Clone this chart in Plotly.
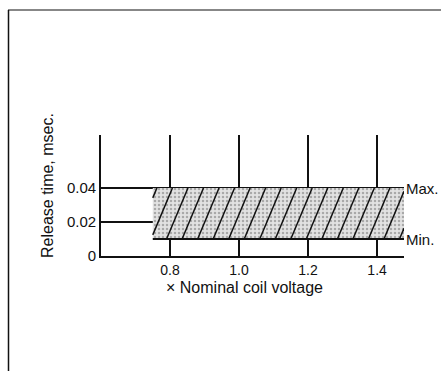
import numpy as np
import plotly.graph_objects as go

# ---- data ----
voltage_ticks = [0.8, 1.0, 1.2, 1.4]
voltage_tick_labels = ["0.8", "1.0", "1.2", "1.4"]
time_ticks = [0, 0.02, 0.04]
time_tick_labels = ["0", "0.02", "0.04"]
band_voltage = [0.75, 1.478]      # extent of the release-time band
release_max = 0.04
release_min = 0.01
x_range = [0.6, 1.478]
y_range = [0, 0.0712]

W, H = 441, 371
ML, MR, MT, MB = 101, W - 404, 135, H - 256
FONT = "Liberation Sans, Arial, sans-serif"
INK = "#111111"

fig = go.Figure()

# stippled band
bx = [band_voltage[0], band_voltage[1], band_voltage[1], band_voltage[0], band_voltage[0]]
by = [release_min, release_min, release_max, release_max, release_min]
fig.add_trace(go.Scatter(
    x=bx, y=by, fill="toself", mode="lines",
    fillcolor="rgba(220,220,220,1)",
    fillpattern=dict(shape=".", fgcolor="#707070", bgcolor="#e2e2e2", size=4, solidity=0.3),
    line=dict(width=0), hoverinfo="skip", showlegend=False))

# diagonal hatching across the band (derived from band limits)
dx_line = 0.062
step = 0.045
hx, hy = [], []
x0 = band_voltage[0] - dx_line + 0.012
while x0 < band_voltage[1]:
    xa, ya = x0, release_min
    xb, yb = x0 + dx_line, release_max
    slope = (yb - ya) / (xb - xa)
    if xa < band_voltage[0]:
        ya = ya + slope * (band_voltage[0] - xa); xa = band_voltage[0]
    if xb > band_voltage[1]:
        yb = yb - slope * (xb - band_voltage[1]); xb = band_voltage[1]
    if xb > xa:
        hx += [xa, xb, None]; hy += [ya, yb, None]
    x0 += step
fig.add_trace(go.Scatter(x=hx, y=hy, mode="lines", line=dict(color=INK, width=1.5),
                         hoverinfo="skip", showlegend=False))

# min line
fig.add_trace(go.Scatter(x=band_voltage, y=[release_min, release_min], mode="lines",
                         line=dict(color=INK, width=2), hoverinfo="skip", showlegend=False))

# labels Max./Min.
fig.add_annotation(x=band_voltage[1], y=release_max, text="Max.", showarrow=False,
                   xanchor="left", yanchor="middle", xshift=0, font=dict(family=FONT, size=15, color=INK))
fig.add_annotation(x=band_voltage[1], y=release_min, text="Min.", showarrow=False,
                   xanchor="left", yanchor="middle", xshift=0, font=dict(family=FONT, size=15, color=INK))

pw, ph = (W - ML - MR), (256 - 135)
def px(x): return (x - ML) / pw
def py(y): return (256 - y) / ph

# axis titles
fig.add_annotation(xref="paper", yref="paper", x=px(47), y=py(186),
                   xanchor="center", yanchor="middle",
                   text="Release time, msec.", textangle=-90, showarrow=False,
                   font=dict(family=FONT, size=16, color=INK))
fig.add_annotation(xref="paper", yref="paper", x=px(244), y=py(287),
                   xanchor="center", yanchor="middle",
                   text="× Nominal coil voltage", showarrow=False,
                   font=dict(family=FONT, size=16, color=INK))

# frame (scanned page border)
fig.add_shape(type="line", xref="paper", yref="paper", x0=px(8.5), x1=px(8.5), y0=py(10), y1=py(371),
              line=dict(color=INK, width=1.5))
fig.add_shape(type="line", xref="paper", yref="paper", x0=px(8), x1=px(441), y0=py(10), y1=py(10),
              line=dict(color=INK, width=1.2))

fig.update_xaxes(range=x_range, tickvals=voltage_ticks, ticktext=voltage_tick_labels,
                 showgrid=True, gridcolor=INK, gridwidth=1.6, zeroline=False,
                 showline=True, linecolor=INK, linewidth=1.6, ticks="",
                 tickfont=dict(family=FONT, size=14, color=INK))
fig.update_yaxes(range=y_range, tickvals=time_ticks, ticktext=time_tick_labels,
                 showgrid=True, gridcolor=INK, gridwidth=1.6, zeroline=False,
                 showline=True, linecolor=INK, linewidth=1.6, ticks="",
                 tickfont=dict(family=FONT, size=15, color=INK))

fig.update_layout(width=W, height=H, margin=dict(l=ML, r=MR, t=MT, b=MB),
                  plot_bgcolor="white", paper_bgcolor="white", showlegend=False)

fig.write_html("out.html")
